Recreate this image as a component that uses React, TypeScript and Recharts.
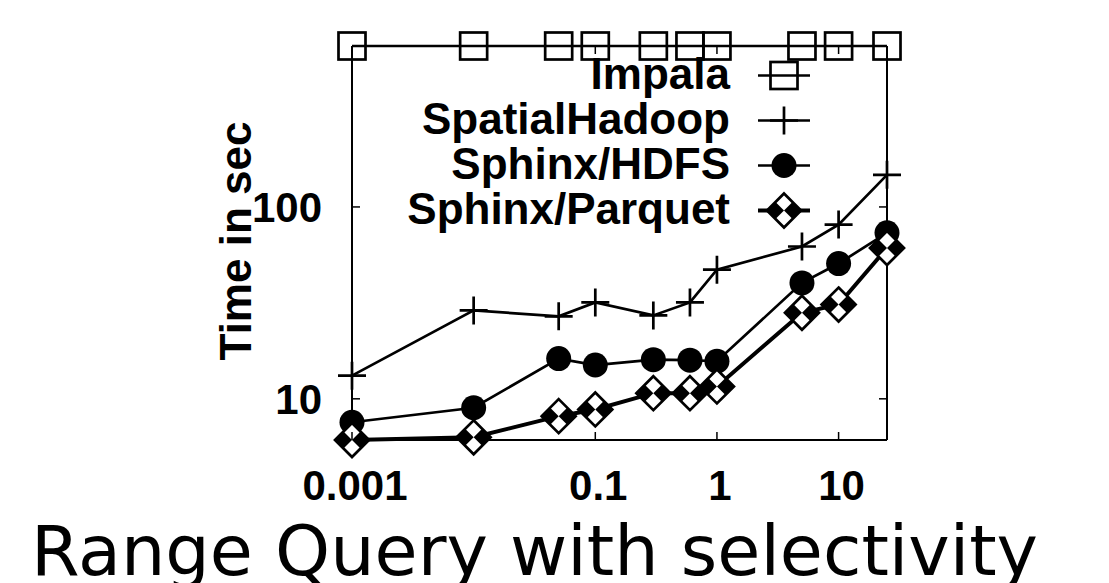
import React from 'react';
import { LineChart, Line, XAxis, YAxis, Legend } from 'recharts';

// selectivity (x, log scale) and query time in seconds (y, log scale)
const selectivity = [0.001, 0.01, 0.05, 0.1, 0.3, 0.6, 1, 5, 10, 25];
const impala = [690, 690, 690, 690, 690, 690, 690, 690, 690, 690];
const spatialHadoop = [13.2, 28.9, 26.9, 31.8, 27.2, 31.8, 47.1, 62.2, 80.9, 147];
const sphinxHdfs = [7.55, 8.98, 16.2, 15.0, 16.0, 15.9, 15.7, 40.2, 50.7, 73.3];
const sphinxParquet = [6.1, 6.3, 8.12, 8.8, 10.7, 10.7, 11.6, 28.1, 31.0, 61.1];

const xTicks = [0.001, 0.1, 1, 10];
const yTicks = [10, 100];
const xDomain = [0.001, 25];
const yDomain = [6.1, 690];

const rows = selectivity.map((x, i) => ({
  x,
  impala: impala[i],
  spatialHadoop: spatialHadoop[i],
  sphinxHdfs: sphinxHdfs[i],
  sphinxParquet: sphinxParquet[i],
}));

const series = [
  { key: 'impala', name: 'Impala', shape: 'square', width: 2.7 },
  { key: 'spatialHadoop', name: 'SpatialHadoop', shape: 'plus', width: 2.7 },
  { key: 'sphinxHdfs', name: 'Sphinx/HDFS', shape: 'circle', width: 2.7 },
  { key: 'sphinxParquet', name: 'Sphinx/Parquet', shape: 'diamond', width: 4 },
];

const boldFont = '"Liberation Sans", Arial, Helvetica, sans-serif';

function Marker({ shape, cx, cy }: { shape: string; cx: number; cy: number }) {
  if (cx == null || cy == null) return null;
  if (shape === 'square') {
    return <rect x={cx - 13.5} y={cy - 13.5} width={27} height={27} fill="none" stroke="#000" strokeWidth={2.7} />;
  }
  if (shape === 'plus') {
    return <path d={`M${cx - 14},${cy}H${cx + 14}M${cx},${cy - 14}V${cy + 14}`} stroke="#000" strokeWidth={2.7} fill="none" />;
  }
  if (shape === 'circle') {
    return <circle cx={cx} cy={cy} r={12.5} fill="#000" />;
  }
  const r = 17;
  const h = r / 2;
  return (
    <g>
      <path d={`M${cx},${cy - r}L${cx + r},${cy}L${cx},${cy + r}L${cx - r},${cy}Z`} fill="#fff" />
      <path d={`M${cx - r},${cy}L${cx - h},${cy - h}L${cx},${cy}L${cx - h},${cy + h}Z`} fill="#000" />
      <path d={`M${cx + r},${cy}L${cx + h},${cy - h}L${cx},${cy}L${cx + h},${cy + h}Z`} fill="#000" />
      <path d={`M${cx},${cy - r}L${cx + r},${cy}L${cx},${cy + r}L${cx - r},${cy}Z`} fill="none" stroke="#000" strokeWidth={2.7} />
    </g>
  );
}

function BottomTick({ x, y, payload }: any) {
  return (
    <g>
      <line x1={x} y1={y} x2={x} y2={y - 8} stroke="#000" strokeWidth={1.5} />
      <text x={x + 3} y={y + 60} textAnchor="middle" fontFamily={boldFont} fontWeight="bold" fontSize={42} fill="#000">
        {String(payload.value)}
      </text>
    </g>
  );
}

function TopTick({ x, y }: any) {
  return <line x1={x} y1={y} x2={x} y2={y + 8} stroke="#000" strokeWidth={1.5} />;
}

function LeftTick({ x, y, payload }: any) {
  return (
    <g>
      <line x1={x} y1={y} x2={x + 8} y2={y} stroke="#000" strokeWidth={1.5} />
      <text x={x - 30} y={y + 15} textAnchor="end" fontFamily={boldFont} fontWeight="bold" fontSize={42} fill="#000">
        {String(payload.value)}
      </text>
    </g>
  );
}

function RightTick({ x, y }: any) {
  return <line x1={x} y1={y} x2={x - 8} y2={y} stroke="#000" strokeWidth={1.5} />;
}

function YTitle(props: any) {
  const vb = props.viewBox ?? { x: 252, y: 46, width: 100, height: 394 };
  const cx = vb.x - 1;
  const cy = vb.y + vb.height / 2 - 2;
  return (
    <text
      transform={`translate(${cx},${cy}) rotate(-90)`}
      textAnchor="middle"
      fontFamily={boldFont}
      fontWeight="bold"
      fontSize={44}
      fill="#000"
    >
      Time in sec
    </text>
  );
}

function LegendBox({ payload }: any) {
  const items = payload ?? [];
  return (
    <div>
      {items.map((item: any) => {
        const s = series.find((v) => v.key === item.dataKey) ?? series[0];
        return (
          <div key={s.key} style={{ display: 'flex', alignItems: 'center', height: 45 }}>
            <span
              style={{
                width: 400,
                textAlign: 'right',
                fontFamily: boldFont,
                fontWeight: 'bold',
                fontSize: 44,
                lineHeight: '45px',
                position: 'relative',
                top: -2,
                color: '#000',
              }}
            >
              {item.value}
            </span>
            <svg width={60} height={45} style={{ marginLeft: 24, display: 'block', overflow: 'visible' }}>
              <line x1={4} y1={22.5} x2={56} y2={22.5} stroke="#000" strokeWidth={s.width} />
              <Marker shape={s.shape} cx={30} cy={22.5} />
            </svg>
          </div>
        );
      })}
    </div>
  );
}

export default function App() {
  return (
    <div style={{ position: 'absolute', left: 0, top: 0, width: 1109, height: 583, background: '#fff', overflow: 'hidden' }}>
      <LineChart width={1109} height={583} data={rows} margin={{ top: 36, right: 212, bottom: 83, left: 252 }}>
        <XAxis
          xAxisId="b"
          dataKey="x"
          type="number"
          scale="log"
          domain={xDomain}
          ticks={xTicks}
          orientation="bottom"
          height={60}
          tickSize={0}
          tickMargin={0}
          tickLine={false}
          axisLine={{ stroke: '#000', strokeWidth: 2 }}
          tick={<BottomTick />}
          interval={0}
        />
        <XAxis
          xAxisId="t"
          dataKey="x"
          type="number"
          scale="log"
          domain={xDomain}
          allowDataOverflow
          ticks={xTicks}
          orientation="top"
          height={10}
          tickSize={0}
          tickMargin={0}
          tickLine={false}
          axisLine={{ stroke: '#000', strokeWidth: 2 }}
          tick={<TopTick />}
          interval={0}
        />
        <YAxis
          yAxisId="l"
          type="number"
          scale="log"
          domain={yDomain}
          ticks={yTicks}
          orientation="left"
          width={100}
          tickSize={0}
          tickMargin={0}
          tickLine={false}
          axisLine={{ stroke: '#000', strokeWidth: 2 }}
          tick={<LeftTick />}
          interval={0}
          label={<YTitle />}
        />
        <YAxis
          yAxisId="r"
          type="number"
          scale="log"
          domain={yDomain}
          allowDataOverflow
          ticks={yTicks}
          orientation="right"
          width={10}
          tickSize={0}
          tickMargin={0}
          tickLine={false}
          axisLine={{ stroke: '#000', strokeWidth: 2 }}
          tick={<RightTick />}
          interval={0}
        />
        <Legend
          layout="horizontal"
          verticalAlign="middle"
          align="center"
          content={<LegendBox />}
          wrapperStyle={{ left: 330, top: 53, width: 500, height: 180 }}
        />
        {series.map((s) => (
          <Line
            key={s.key}
            xAxisId="b"
            yAxisId="l"
            dataKey={s.key}
            name={s.name}
            type="linear"
            stroke="#000"
            strokeWidth={s.width}
            isAnimationActive={false}
            activeDot={false}
            dot={(p: any) => <Marker key={`${s.key}-${p.index}`} shape={s.shape} cx={p.cx} cy={p.cy} />}
          />
        ))}
      </LineChart>
      <div
        style={{
          position: 'absolute',
          left: 31,
          top: 516,
          fontFamily: '"DejaVu Sans", Verdana, sans-serif',
          fontSize: 70,
          lineHeight: 1,
          whiteSpace: 'nowrap',
          color: '#000',
        }}
      >
        Range Query with selectivity
      </div>
    </div>
  );
}
